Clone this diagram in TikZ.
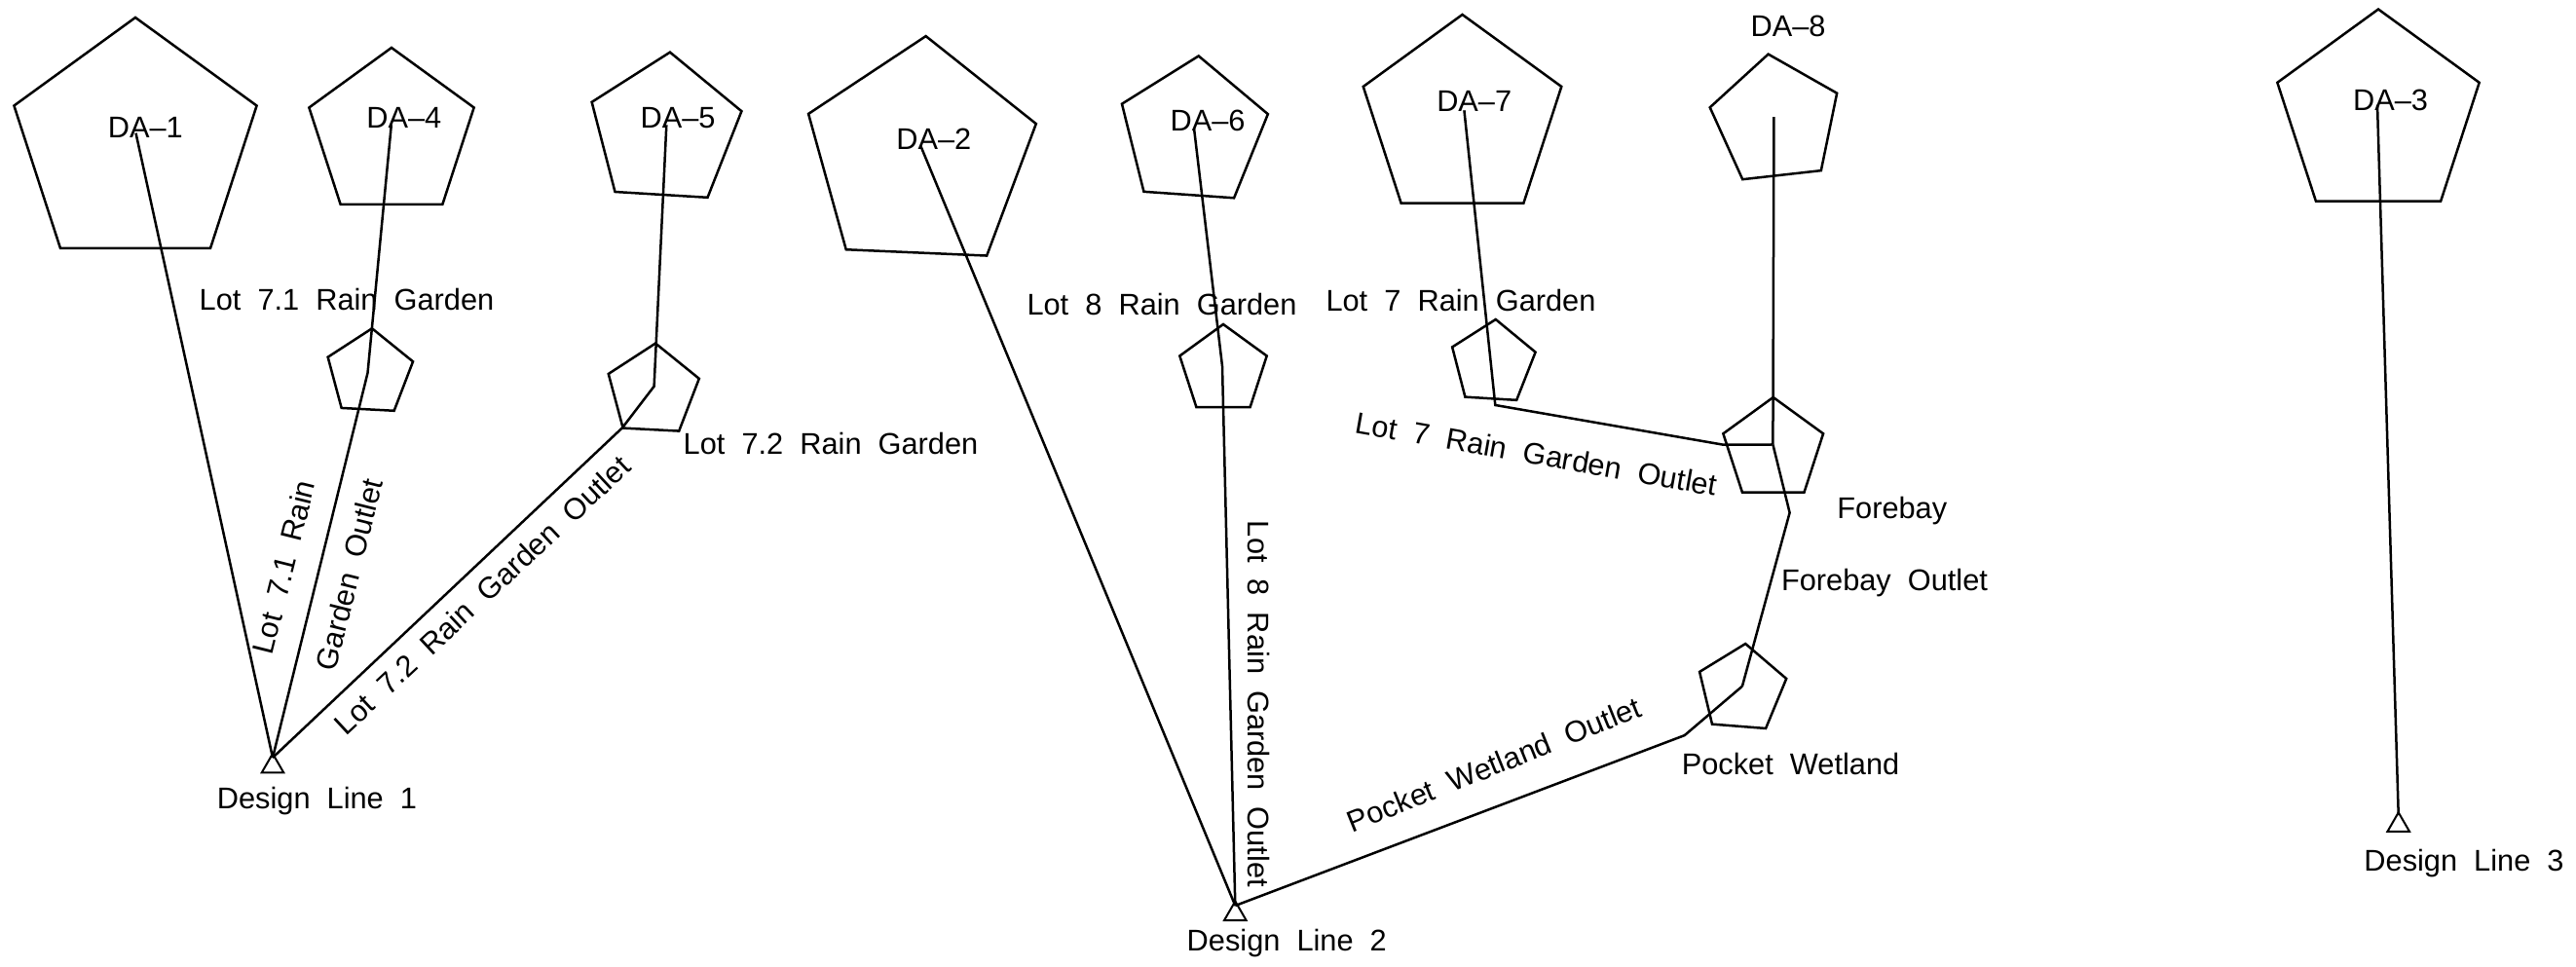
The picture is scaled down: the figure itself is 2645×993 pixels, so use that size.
\documentclass[tikz,border=0pt]{standalone}
\usepackage{fontspec}
\setmainfont{Liberation Sans}[WordSpace=2]
\usetikzlibrary{shapes.geometric}

\tikzset{
  lbl/.style={font=\fontsize{8.75}{10}\selectfont, inner sep=0pt, outer sep=0pt},
  area/.style={draw, line width=0.25mm, regular polygon, regular polygon sides=5,
               inner sep=0pt, outer sep=0pt},
  outfall/.style={draw, line width=0.2mm, regular polygon, regular polygon sides=3,
                  inner sep=0pt, outer sep=0pt, minimum size=2.6mm},
  link/.style={line width=0.25mm, line join=miter},
}

\begin{document}
\begin{tikzpicture}[x=0.1mm, y=-0.1mm]
\useasboundingbox (0,0) rectangle (2645,993);
\fill[white] (0,0) rectangle (2645,993);

% ---------------- Design Line 1 system ----------------
\node[area, minimum size=26.2mm] (da1) at (139,149) {};
\node[area, minimum size=17.8mm] (da4) at (402,138) {};
\node[area, minimum size=16.2mm, rotate=-3.5] (da5) at (683,134.5) {};
\node[area, minimum size=9.2mm, rotate=-3] (rg71) at (379.6,383.2) {};
\node[area, minimum size=9.8mm, rotate=-3] (rg72) at (670.5,401.5) {};
\node[outfall] (dl1) at (280,786.9) {};

\coordinate (a1) at (139.5,136.7);
\coordinate (a4) at (401.8,128.3);
\coordinate (a5) at (684.3,128.3);
\coordinate (n71) at (377.5,383);
\coordinate (n72) at (671.6,396.7);
\coordinate (b72) at (639,439.3);
\coordinate (j1) at (280,778);

\draw[link] (a1) -- (j1);
\draw[link] (a4) -- (n71) -- (j1);
\draw[link] (a5) -- (n72) -- (b72) -- (j1);

\node[lbl, anchor=base] (tda1) at (149.3,141.7) {DA–1};
\node[lbl, anchor=base] (tda4) at (414.8,131.7) {DA–4};
\node[lbl, anchor=base] (tda5) at (696,131.7) {DA–5};
\node[lbl, anchor=base] (trg71) at (356,318.3) {Lot 7.1 Rain Garden};
\node[lbl, anchor=base] (trg72) at (853,466.7) {Lot 7.2 Rain Garden};
\node[lbl, rotate=76] (to71a) at (291.3,582.5) {Lot 7.1 Rain};
\node[lbl, rotate=76] (to71b) at (358.7,590) {Garden Outlet};
\node[lbl, rotate=43] (to72) at (495,611) {Lot 7.2 Rain Garden Outlet};
\node[lbl, anchor=base] (tdl1) at (325.5,830) {Design Line 1};

% ---------------- Design Line 2 system ----------------
\node[area, minimum size=24.6mm, rotate=-2.5] (da2) at (945.3,160) {};
\node[area, minimum size=15.8mm, rotate=-4] (da6) at (1225.2,136.3) {};
\node[area, minimum size=21.4mm] (da7) at (1501.5,122) {};
\node[area, minimum size=13.8mm, rotate=6.4] (da8) at (1823.3,124.2) {};
\node[area, minimum size=9.4mm] (rg8) at (1256,380) {};
\node[area, minimum size=9mm, rotate=-3.5] (rg7) at (1533,372.9) {};
\node[area, minimum size=10.8mm] (fb) at (1820.7,462) {};
\node[area, minimum size=9.4mm, rotate=-4.5] (pw) at (1788.5,707.9) {};
\node[outfall] (dl2) at (1268.3,938.5) {};

\coordinate (a2) at (945.4,150);
\coordinate (a6) at (1226,131.7);
\coordinate (a7) at (1503.4,113.3);
\coordinate (a8) at (1821.4,120.2);
\coordinate (n8) at (1255,376);
\coordinate (n7) at (1535.3,416);
\coordinate (b7) at (1768.8,456.6);
\coordinate (nf) at (1820.4,456.5);
\coordinate (bf) at (1837.6,526.5);
\coordinate (npw) at (1788.9,704.7);
\coordinate (bpw) at (1729.7,755.1);
\coordinate (j2) at (1268.3,930);

\draw[link] (a2) -- (j2);
\draw[link] (a6) -- (n8) -- (j2);
\draw[link] (a7) -- (n7) -- (b7) -- (nf);
\draw[link] (a8) -- (nf);
\draw[link] (nf) -- (bf) -- (npw);
\draw[link] (npw) -- (bpw) -- (j2);

\node[lbl, anchor=base] (tda2) at (958.8,153.3) {DA–2};
\node[lbl, anchor=base] (tda6) at (1240,135) {DA–6};
\node[lbl, anchor=base] (tda7) at (1513.7,115) {DA–7};
\node[lbl, anchor=base] (tda8) at (1836,37.3) {DA–8};
\node[lbl, anchor=base] (trg8) at (1193,323.3) {Lot 8 Rain Garden};
\node[lbl, anchor=base] (trg7) at (1500,320) {Lot 7 Rain Garden};
\node[lbl, rotate=-10] (to7) at (1578,466) {Lot 7 Rain Garden Outlet};
\node[lbl, anchor=base] (tfb) at (1942.8,532.7) {Forebay};
\node[lbl, anchor=base] (tfbo) at (1935,606) {Forebay Outlet};
\node[lbl, anchor=base] (tpw) at (1838.5,795) {Pocket Wetland};
\node[lbl, rotate=22] (tpwo) at (1534,785) {Pocket Wetland Outlet};
\node[lbl, rotate=-90] (to8) at (1292.3,723) {Lot 8 Rain Garden Outlet};
\node[lbl, anchor=base] (tdl2) at (1321.3,976.7) {Design Line 2};

% ---------------- Design Line 3 system ----------------
\node[area, minimum size=21.8mm] (da3) at (2442,118.5) {};
\node[outfall] (dl3) at (2462.7,847.3) {};
\coordinate (a3) at (2441,107.7);
\coordinate (j3) at (2462.7,837);
\draw[link] (a3) -- (j3);

\node[lbl, anchor=base] (tda3) at (2454.5,114) {DA–3};
\node[lbl, anchor=base] (tdl3) at (2530,894.2) {Design Line 3};
\end{tikzpicture}
\end{document}
